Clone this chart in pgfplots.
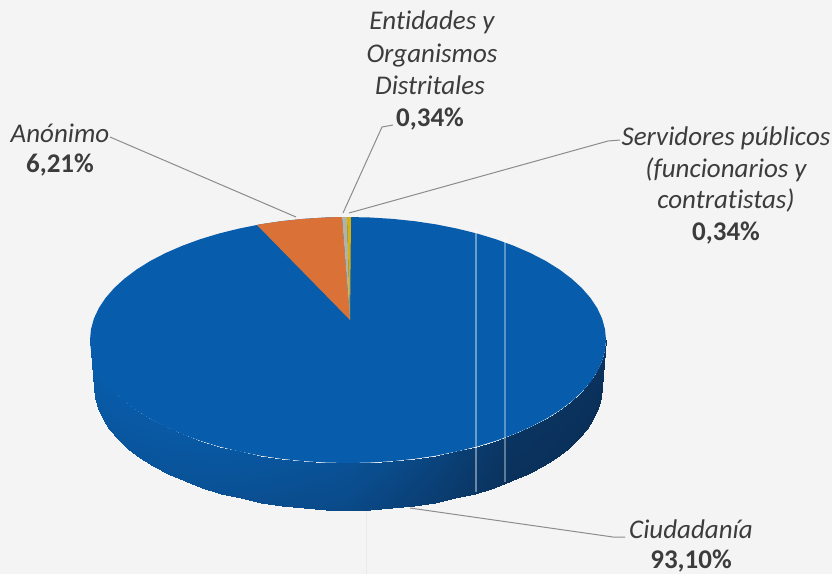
\documentclass[border=0pt]{standalone}
\usepackage{fontspec}
\setmainfont[Ligatures=NoCommon]{Carlito}
\usepackage{pgfplots}
\pgfplotsset{compat=1.18}
\definecolor{bgpaper}{HTML}{F4F4F4}
\definecolor{faceblue}{HTML}{075CAB}
\definecolor{slorange}{HTML}{DA7238}
\definecolor{slgray}{HTML}{B3B2A6}
\definecolor{slyellow}{HTML}{D6B010}
\definecolor{leader}{HTML}{8C8C8C}
\definecolor{txt}{HTML}{3C3C3C}
\newcommand{\lbl}[1]{\fontsize{27}{27}\selectfont\itshape\color{txt}#1}
\newcommand{\val}[1]{\fontsize{27}{27}\selectfont\bfseries\color{txt}#1}
\begin{document}
\begin{tikzpicture}
\begin{axis}[
  hide axis, scale only axis, width=832pt, height=574pt,
  xmin=0, xmax=832, ymin=0, ymax=574, y dir=reverse,
  colormap={side}{rgb255(0)=(10,44,82) rgb255(5)=(10,76,140) rgb255(10)=(8,94,174)},
  point meta min=0, point meta max=1,
]
% paper
\addplot[fill=bgpaper, draw=none] coordinates {(0,0)(832,0)(832,574)(0,574)} --cycle;
% side wall
\addplot[surf, shader=interp, mesh/rows=2, mesh/cols=37, point meta=\thisrow{c}] table {
x y c
90 340 .98
91 350.7 .98
93.9 361.4 .97
98.8 371.9 .96
105.6 382.1 .95
114.2 392 .93
124.6 401.5 .92
136.7 410.6 .90
150.4 419.1 .88
165.6 427 .87
182.2 434.2 .85
199.9 440.7 .83
219 446.5 .82
238.9 451.4 .80
259.8 455.6 .78
281.2 458.8 .74
303.2 461.1 .70
325.6 462.5 .66
348 463 .62
370.4 462.5 .55
392.8 461.1 .49
414.8 458.8 .43
436.2 455.6 .37
457.1 451.4 .30
477 446.5 .24
496.1 440.7 .18
513.8 434.2 .12
530.4 427 .12
545.6 419.1 .11
559.3 410.6 .11
571.4 401.5 .10
581.8 392 .10
590.4 382.1 .10
597.2 371.9 .10
602.1 361.4 .10
605 350.7 .12
606 340 .15
94 387 .85
95 397.7 .83
97.9 408.4 .82
102.6 418.9 .80
109.2 429.1 .78
117.8 439 .77
128 448.5 .75
139.9 457.6 .73
153.4 466.1 .72
168.4 474 .70
184.7 481.2 .68
202.2 487.7 .66
221 493.5 .63
240.6 498.4 .60
261.1 502.6 .56
282.2 505.8 .52
303.8 508.1 .48
325.9 509.5 .47
348 510 .45
370.1 509.5 .40
392.2 508.1 .36
413.8 505.8 .31
434.9 502.6 .27
455.4 498.4 .22
475 493.5 .17
493.8 487.7 .13
511.3 481.2 .08
527.6 474 .08
542.6 466.1 .08
556.1 457.6 .07
568 448.5 .07
578.2 439 .06
586.8 429.1 .06
593.4 418.9 .06
598.1 408.4 .05
601 397.7 .05
602 387 .05
};
% top face
\addplot[fill=faceblue, draw=none] coordinates {
(606,340)(605,329.3)(602.1,318.6)(597.2,308.1)(590.4,297.9)(581.8,288)(571.4,278.5)(559.3,269.4)(545.6,260.9)(530.4,253)(513.8,245.8)(496.1,239.3)(477,233.5)(457.1,228.6)(436.2,224.4)(414.8,221.2)(392.8,218.9)(370.4,217.5)(348,217)
(325.6,217.5)(303.2,218.9)(281.2,221.2)(259.8,224.4)(238.9,228.6)(219,233.5)(199.9,239.3)(182.2,245.8)(165.6,253)(150.4,260.9)(136.7,269.4)(124.6,278.5)(114.2,288)(105.6,297.9)(98.8,308.1)(93.9,318.6)(91,329.3)(90,340)
(91,350.7)(93.9,361.4)(98.8,371.9)(105.6,382.1)(114.2,392)(124.6,401.5)(136.7,410.6)(150.4,419.1)(165.6,427)(182.2,434.2)(199.9,440.7)(219,446.5)(238.9,451.4)(259.8,455.6)(281.2,458.8)(303.2,461.1)(325.6,462.5)(348,463)
(370.4,462.5)(392.8,461.1)(414.8,458.8)(436.2,455.6)(457.1,451.4)(477,446.5)(496.1,440.7)(513.8,434.2)(530.4,427)(545.6,419.1)(559.3,410.6)(571.4,401.5)(581.8,392)(590.4,382.1)(597.2,371.9)(602.1,361.4)(605,350.7)
} --cycle;
% slices: Anónimo 6,21; Entidades 0,34; Servidores 0,34
\addplot[fill=slorange, draw=none] coordinates {(350,320)(257,225)(259.8,224.4)(281.2,221.2)(303.2,218.9)(325.6,217.5)(342,217)} --cycle;
\addplot[fill=slgray, draw=none] coordinates {(350,320)(342,217)(347,217)} --cycle;
\addplot[fill=slyellow, draw=none] coordinates {(350,320)(347,217)(351,217)} --cycle;
% scanner streaks
\addplot[white, opacity=.4, line width=1.2pt] coordinates {(476,230)(476,492)};
\addplot[white, opacity=.35, line width=1.2pt] coordinates {(505,238)(505,482)};
\addplot[black, opacity=.04, line width=.8pt] coordinates {(366,510)(366,574)};
% leader lines
\addplot[leader, line width=1pt] coordinates {(110,137)(296,217)};
\addplot[leader, line width=1pt] coordinates {(393,125)(382,127)(343,213)};
\addplot[leader, line width=1pt] coordinates {(620,140)(608,141)(349,213)};
\addplot[leader, line width=1pt] coordinates {(410,508)(613,537)(625,537)};
% labels
\node[anchor=base] at (axis cs:432,29) {\lbl{Entidades y}};
\node[anchor=base] at (axis cs:432,62) {\lbl{Organismos}};
\node[anchor=base] at (axis cs:430,94) {\lbl{Distritales}};
\node[anchor=base] at (axis cs:430,126) {\val{0,34\%}};
\node[anchor=base] at (axis cs:60,142) {\lbl{Anónimo}};
\node[anchor=base] at (axis cs:60,172) {\val{6,21\%}};
\node[anchor=base] at (axis cs:726,145) {\lbl{Servidores públicos}};
\node[anchor=base] at (axis cs:726,177) {\lbl{(funcionarios y}};
\node[anchor=base] at (axis cs:726,208) {\lbl{contratistas)}};
\node[anchor=base] at (axis cs:726,240) {\val{0,34\%}};
\node[anchor=base] at (axis cs:691,538) {\lbl{Ciudadanía}};
\node[anchor=base] at (axis cs:691,568) {\val{93,10\%}};
\end{axis}
\end{tikzpicture}
\end{document}
